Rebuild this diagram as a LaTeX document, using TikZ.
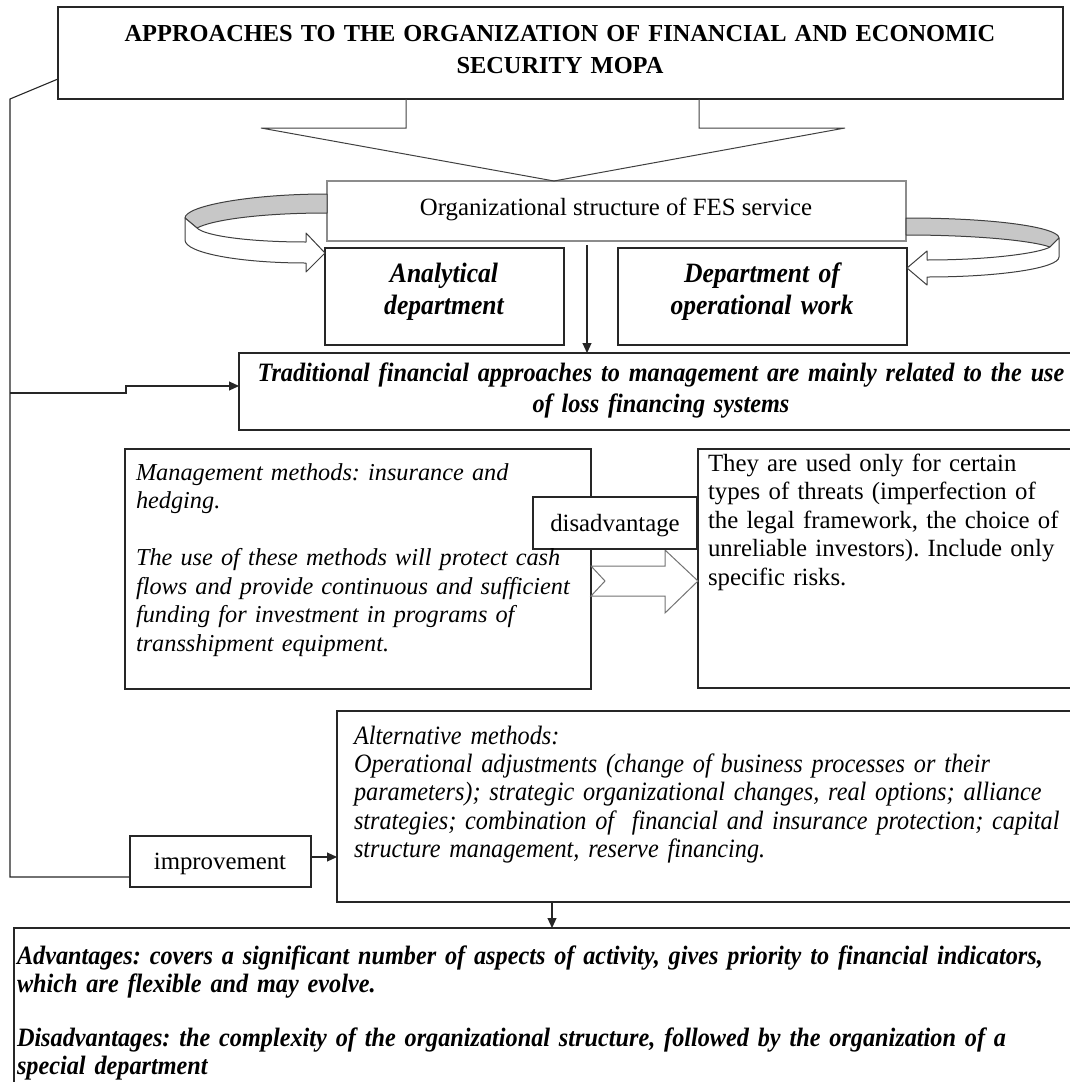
\documentclass[tikz,border=0pt]{standalone}
\usepackage{fontspec}
\setmainfont{Liberation Serif}
\newfontfamily\condfont[FakeStretch=0.915]{Liberation Serif}
\usetikzlibrary{arrows.meta}
\AtBeginDocument{\frenchspacing}
\begin{document}
\begin{tikzpicture}[x=1pt,y=-1pt,
  box/.style={draw=black!85, line width=1.1pt, fill=white, inner sep=0pt, outer sep=0pt, anchor=north west},
  greybox/.style={box, draw=black!45},
  txt/.style={inner sep=0pt, outer sep=0pt, font=\frenchspacing\fontsize{24.8}{28.5}\selectfont},
  conn/.style={draw=black!85, line width=1.1pt},
  arr/.style={conn, -{Triangle[length=10pt,width=9pt]}},
  chev/.style={draw=black!75, line width=1pt},
  ribbon/.style={draw=black!75, line width=1pt, line join=round},
]
\useasboundingbox (0,0) rectangle (1070,1082);
\clip (0,0) rectangle (1070,1082);

% boxes
\node[box, minimum width=1005pt, minimum height=92pt] (title) at (58,7) {};
\node[greybox, minimum width=579pt, minimum height=60pt] (org) at (327,181) {};
\node[box, minimum width=239pt, minimum height=97pt] (ana) at (325,248) {};
\node[box, minimum width=289pt, minimum height=97pt] (dep) at (618,248) {};
\node[box, minimum width=844pt, minimum height=77pt] (trad) at (239,353) {};
\node[box, minimum width=466pt, minimum height=240pt] (man) at (125,449) {};
\node[box, minimum width=385pt, minimum height=239pt] (rt) at (698,449) {};
\node[box, minimum width=746pt, minimum height=191pt] (alt) at (337,711) {};
\node[box, minimum width=181pt, minimum height=51pt] (imp) at (130,836) {};
\node[box, minimum width=1069pt, minimum height=170pt] (adv) at (14,928) {};

% block arrow management -> right box
\draw[draw=black!55, line width=1pt, fill=white]
  (man.east |- 0,566) -- (665,566) -- (665,550) -- (rt.west |- 0,581) -- (665,613)
  -- (665,596) -- (man.east |- 0,596) -- (605,581) -- cycle;
\node[box, minimum width=164pt, minimum height=52pt] (dis) at (533,497) {};

% chevron from title to org
\draw[chev] (title.south -| 406,0) -- (406,128) -- (261,128) -- (org.north -| 554,0)
  -- (845,128) -- (699,128) -- (title.south -| 699,0);

% left ribbon arrow
\draw[ribbon, fill=black!22] (org.west |- 0,194) .. controls (250,194) and (185,206) .. (185,218)
  -- (197,228) .. controls (212,220) and (260,213) .. (org.west |- 0,213) -- cycle;
\draw[ribbon, fill=white] (185,218) -- (185,240) .. controls (185,253) and (240,263) .. (306,263)
  -- (306,272) -- (ana.west |- 0,253) -- (306,233) -- (306,242)
  .. controls (250,242) and (205,236) .. (197,228) -- cycle;

% right ribbon arrow
\draw[ribbon, fill=black!22] (org.east |- 0,218) .. controls (1000,218) and (1059,228) .. (1059,238)
  -- (1050,247) .. controls (1030,240) and (970,235) .. (org.east |- 0,235) -- cycle;
\draw[ribbon, fill=white] (1059,238) -- (1059,257) .. controls (1059,268) and (1000,277) .. (927,277)
  -- (927,285) -- (dep.east |- 0,268) -- (927,251) -- (927,260)
  .. controls (990,260) and (1040,253) .. (1050,247) -- cycle;

% connectors
\draw[arr, shorten <=4pt] (org.south -| 587,0) -- (trad.north -| 587,0);
\coordinate (fbtop) at (10,99);
\coordinate (fbbot) at (10,877);
\coordinate (fbstep) at (126,393);
\draw[conn] (title.west |- 0,79) -- (fbtop) -- (fbbot) -- (imp.west |- fbbot);
\draw[arr] (fbtop |- fbstep) -- (fbstep) -- ++(0,-7) -- (trad.west |- 0,386);
\draw[arr] (imp.east |- 0,857) -- (alt.west |- 0,857);
\draw[arr] (alt.south -| 552,0) -- (adv.north -| 552,0);

% texts
\node[txt, font=\bfseries\fontsize{24.4}{32}\selectfont, align=center, text width=1000pt, anchor=base]
  (ttlt) at (560,41) {APPROACHES TO THE ORGANIZATION OF FINANCIAL AND ECONOMIC\\SECURITY MOPA};
\node[txt, anchor=base] (orgt) at (616,215) {Organizational structure of FES service};
\node[txt, font=\condfont\bfseries\itshape\fontsize{28}{32}\selectfont, align=center, text width=230pt, anchor=base]
  (anat) at (444,282) {Analytical\\department};
\node[txt, font=\condfont\bfseries\itshape\fontsize{28}{32}\selectfont, align=center, text width=280pt, anchor=base]
  (dept) at (762,282) {Department of\\operational work};
\node[txt, font=\condfont\bfseries\itshape\fontsize{26.5}{31}\selectfont, align=center, text width=840pt, anchor=base]
  (tradt) at (661,381) {Traditional financial approaches to management are mainly related to the use\\of loss financing systems};
\node[txt, font=\itshape\fontsize{24.3}{28.5}\selectfont, align=left, text width=450pt, anchor=base west]
  (mant) at (136,480) {Management methods: insurance and\\hedging.\\[28.5pt]The use of these methods will protect cash\\flows and provide continuous and sufficient\\funding for investment in programs of\\transshipment equipment.};
\node[txt, anchor=base] (dist) at (615,531) {disadvantage};
\node[txt, align=left, text width=360pt, anchor=base west]
  (rtt) at (708,471) {They are used only for certain\\types of threats (imperfection of\\the legal framework, the choice of\\unreliable investors). Include only\\specific risks.};
\node[txt, font=\condfont\itshape\fontsize{26.5}{28.4}\selectfont, align=left, text width=720pt, anchor=base west]
  (altt) at (354,744) {Alternative methods:\\Operational adjustments (change of business processes or their\\parameters); strategic organizational changes, real options; alliance\\strategies; combination of\ \ financial and insurance protection; capital\\structure management, reserve financing.};
\node[txt, anchor=base] (impt) at (220,869) {improvement};
\node[txt, font=\condfont\bfseries\itshape\fontsize{26.5}{28}\selectfont, align=left, text width=1060pt, anchor=base west]
  (advt) at (17,964) {Advantages: covers a significant number of aspects of activity, gives priority to financial indicators,\\which are flexible and may evolve.\\[26pt]Disadvantages: the complexity of the organizational structure, followed by the organization of a\\special department};
\end{tikzpicture}
\end{document}
